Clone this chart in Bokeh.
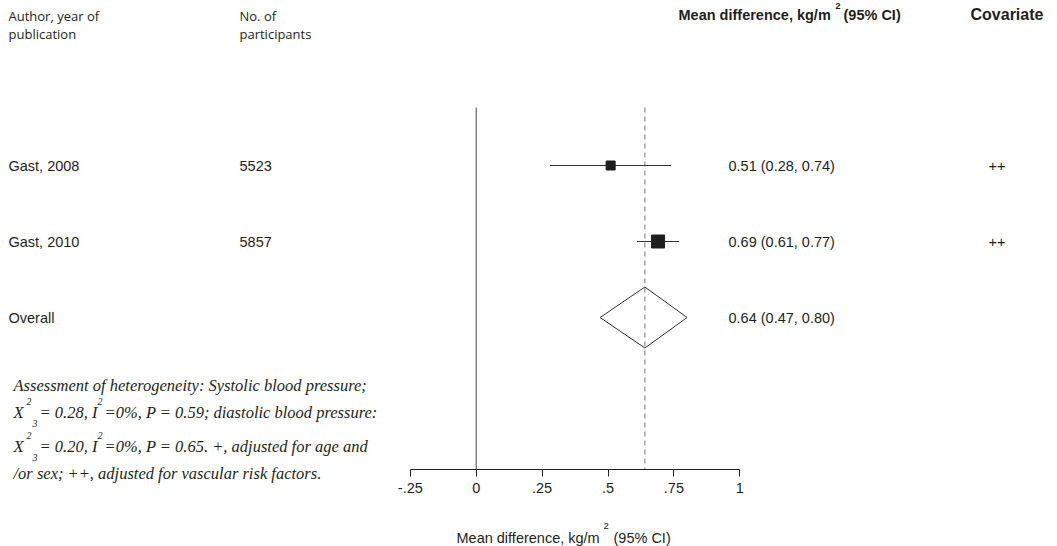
from bokeh.plotting import figure
from bokeh.models import Range1d, LinearAxis, FixedTicker
from bokeh.core.properties import value
from bokeh.embed import file_html
from bokeh.resources import INLINE

# ---------------- data ----------------
studies = ["Gast, 2008", "Gast, 2010"]
participants = ["5523", "5857"]
md = [0.51, 0.69]
ci_lo = [0.28, 0.61]
ci_hi = [0.74, 0.77]
covariate = ["++", "++"]
overall_label = "Overall"
overall_md = 0.64
overall_lo = 0.47
overall_hi = 0.80
tick_values = [-0.25, 0, 0.25, 0.5, 0.75, 1]
tick_labels = ["-.25", "0", ".25", ".5", ".75", "1"]

# ---------------- layout helpers ----------------
W, H = 1057, 546
X0_PX, PX_PER_UNIT = 475.7, 263.6
FIRST_ROW_PX, ROW_PX = 165, 76
N = len(studies)


def px2x(px):
    return (px - X0_PX) / PX_PER_UNIT


def py2y(py):
    return N + 1 - (py - FIRST_ROW_PX) / ROW_PX


rows = [N + 1 - i for i in range(N)]
overall_row = 1
square_sizes = [9, 13]

TXT = "#231f20"
SANS = value("Liberation Sans")
SERIF = value("Liberation Serif")

p = figure(width=W, height=H,
           x_range=Range1d(px2x(0), px2x(W)),
           y_range=Range1d(py2y(H), py2y(0)),
           output_backend="svg", toolbar_location=None,
           x_axis_location=None, y_axis_location=None, min_border=0)
p.outline_line_color = None
p.background_fill_color = "white"
for g in p.grid:
    g.visible = False

# axis
ax = LinearAxis(fixed_location=py2y(469), bounds=(tick_values[0], tick_values[-1]),
                ticker=FixedTicker(ticks=tick_values),
                major_label_overrides={v: l for v, l in zip(tick_values, tick_labels)},
                major_tick_in=0, major_tick_out=7, minor_tick_in=0, minor_tick_out=0,
                axis_line_color=TXT, major_tick_line_color=TXT,
                major_label_text_font="Liberation Sans", major_label_text_font_size="14.5px",
                major_label_text_color=TXT, major_label_standoff=6)
p.add_layout(ax, "below")

# reference lines
p.segment(x0=[0], y0=[py2y(107)], x1=[0], y1=[py2y(469)], line_color="#444444", line_width=1)
p.segment(x0=[overall_md], y0=[py2y(107)], x1=[overall_md], y1=[py2y(469)],
          line_color="#777777", line_width=1, line_dash="5 4")

# study CIs and squares
p.segment(x0=ci_lo, y0=rows, x1=ci_hi, y1=rows, line_color="#333333", line_width=1)
p.scatter(x=md, y=rows, marker="square", size=square_sizes,
          fill_color="#1e1e1e", line_color="#1e1e1e")

# overall diamond
dh = 30.5 / ROW_PX
p.patch(x=[overall_lo, overall_md, overall_hi, overall_md],
        y=[overall_row, overall_row + dh, overall_row, overall_row - dh],
        fill_alpha=0, line_color="#333333", line_width=1)

# row texts
def txt(x, y, t, size="14.5px", font=SANS, style="normal", align="left", baseline="middle"):
    p.text(x=x, y=y, text=t, text_font=font, text_font_size=size, text_font_style=style,
           text_color=TXT, text_align=align, text_baseline=baseline)

txt([px2x(8)] * N, rows, studies)
txt([px2x(239)] * N, rows, participants)
est = [f"{m:.2f} ({l:.2f}, {h:.2f})" for m, l, h in zip(md, ci_lo, ci_hi)]
txt([px2x(728)] * N, rows, est)
txt([px2x(988)] * N, rows, covariate)
txt([px2x(8)], [overall_row], [overall_label])
txt([px2x(728)], [overall_row], [f"{overall_md:.2f} ({overall_lo:.2f}, {overall_hi:.2f})"])

# headers
OPEN = value("Open Sans")
txt([px2x(8)], [py2y(15)], ["Author, year of"], size="13px", font=OPEN)
txt([px2x(8)], [py2y(33)], ["publication"], size="13px", font=OPEN)
txt([px2x(239)], [py2y(15)], ["No. of"], size="13px", font=OPEN)
txt([px2x(239)], [py2y(33)], ["participants"], size="13px", font=OPEN)
txt([px2x(678)], [py2y(14)], ["Mean difference, kg/m"], size="14.5px", style="bold")
txt([px2x(835)], [py2y(5)], ["2"], size="9px", style="bold")
txt([px2x(843)], [py2y(14)], ["(95% CI)"], size="14.5px", style="bold")
txt([px2x(970)], [py2y(14)], ["Covariate"], size="16px", style="bold")

# axis title
txt([px2x(456)], [py2y(537)], ["Mean difference, kg/m"])
txt([px2x(603)], [py2y(525)], ["2"], size="9.5px")
txt([px2x(613)], [py2y(537)], ["(95% CI)"])

# footnote
FS = "16.5px"
SUP = "10px"
txt([px2x(13)], [py2y(385)], ["Assessment of heterogeneity: Systolic blood pressure;"], size=FS, font=SERIF, style="italic")
for ly, chi, pval, tail in [(412, "0.28", "0.59", "; diastolic blood pressure:"),
                            (446, "0.20", "0.65", ". +, adjusted for age and")]:
    txt([px2x(13)], [py2y(ly)], ["X"], size=FS, font=SERIF, style="italic")
    txt([px2x(26)], [py2y(ly - 11)], ["2"], size=SUP, font=SERIF, style="italic")
    txt([px2x(32)], [py2y(ly + 11)], ["3"], size=SUP, font=SERIF, style="italic")
    txt([px2x(39)], [py2y(ly)], [f"= {chi}, I"], size=FS, font=SERIF, style="italic")
    txt([px2x(97)], [py2y(ly - 11)], ["2"], size=SUP, font=SERIF, style="italic")
    txt([px2x(104)], [py2y(ly)], [f"=0%, P = {pval}{tail}"], size=FS, font=SERIF, style="italic")
txt([px2x(13)], [py2y(473)], ["/or sex; ++, adjusted for vascular risk factors."], size=FS, font=SERIF, style="italic")

open("out.html", "w").write(file_html(p, INLINE))
